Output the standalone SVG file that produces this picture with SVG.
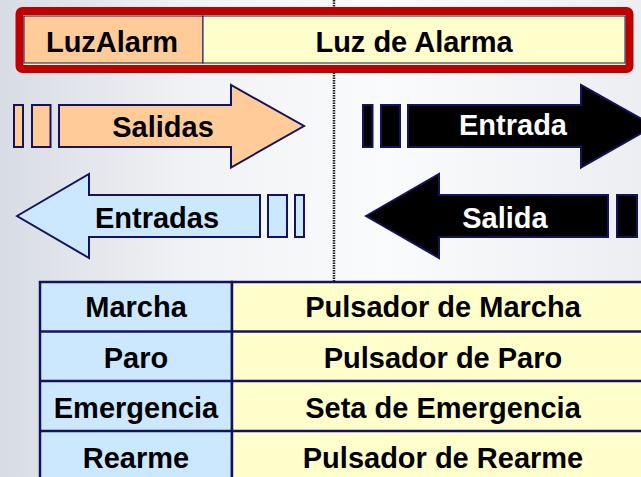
<svg xmlns="http://www.w3.org/2000/svg" width="641" height="477" viewBox="0 0 641 477">
<style>
text{font-family:"Liberation Sans",Arial,sans-serif;font-weight:bold;font-size:29px;text-anchor:middle;fill:#000}
.w{fill:#fff}
.ar{stroke:#14145e;stroke-width:2;stroke-linejoin:miter}
.or{fill:#FFCC99}
.bl{fill:#CCE8FF}
.bk{fill:#000}
.ye{fill:#FFFFCC}
.cell{stroke:#14145e;stroke-width:2.5}
</style>
<defs>
<linearGradient id="bg" x1="0" y1="0" x2="1" y2="0">
<stop offset="0" stop-color="#d8dce4"/>
<stop offset="0.3" stop-color="#f1f2f5"/>
<stop offset="0.6" stop-color="#fafbfc"/>
<stop offset="1" stop-color="#eceef2"/>
</linearGradient>
</defs>
<rect width="641" height="477" fill="url(#bg)"/>
<g id="connectors">
<line x1="334" y1="0" x2="334" y2="282" stroke="#222" stroke-width="2.5" stroke-dasharray="1.5 1"/>
</g>
<g id="luzalarm">
<rect x="19.5" y="11" width="610" height="58" rx="3" fill="#FFFFCC" stroke="#C00000" stroke-width="8"/>
<rect x="24" y="16" width="179" height="47" class="or" stroke="#14145e" stroke-width="1"/>
<rect x="203" y="16" width="422" height="47" class="ye" stroke="#14145e" stroke-width="1"/>
<text x="112" y="52" font-size="28">LuzAlarm</text>
<text x="414" y="52" font-size="28">Luz de Alarma</text>
</g>
<g id="salidas">
<rect x="14" y="105" width="9" height="42" class="ar or"/>
<rect x="32" y="105" width="18.5" height="42" class="ar or"/>
<polygon points="59,105 231,105 231,85 304,126 231,167.5 231,147 59,147" class="ar or"/>
<text x="163" y="137">Salidas</text>
</g>
<g id="entradas">
<polygon points="17,216 89,174 89,195 260,195 260,237 89,237 89,258" class="ar bl"/>
<rect x="268" y="195" width="19" height="42" class="ar bl"/>
<rect x="295" y="195" width="9" height="42" class="ar bl"/>
<text x="157" y="228">Entradas</text>
</g>
<g id="entrada">
<rect x="363" y="105" width="9.5" height="42" class="ar bk"/>
<rect x="381" y="105" width="19" height="42" class="ar bk"/>
<polygon points="408,105 581,105 581,85 654,126 581,167.5 581,147 408,147" class="ar bk"/>
<text x="513" y="135" class="w">Entrada</text>
</g>
<g id="salida">
<polygon points="366,216 439,174 439,195 608,195 608,237 439,237 439,258" class="ar bk"/>
<rect x="617" y="195" width="20" height="42" class="ar bk"/>
<text x="505" y="228" class="w">Salida</text>
</g>
<g id="table">
<rect x="40" y="282" width="192" height="200" class="cell bl"/>
<rect x="232" y="282" width="425" height="200" class="cell ye"/>
<line x1="40" y1="331.5" x2="657" y2="331.5" class="cell"/>
<line x1="40" y1="381" x2="657" y2="381" class="cell"/>
<line x1="40" y1="431" x2="657" y2="431" class="cell"/>
</g>
<g id="row-marcha">
<text x="136" y="317">Marcha</text>
<text x="443" y="317">Pulsador de Marcha</text>
</g>
<g id="row-paro">
<text x="136" y="368">Paro</text>
<text x="443" y="368">Pulsador de Paro</text>
</g>
<g id="row-emergencia">
<text x="136" y="418">Emergencia</text>
<text x="443" y="418">Seta de Emergencia</text>
</g>
<g id="row-rearme">
<text x="136" y="468">Rearme</text>
<text x="443" y="468">Pulsador de Rearme</text>
</g>
</svg>
